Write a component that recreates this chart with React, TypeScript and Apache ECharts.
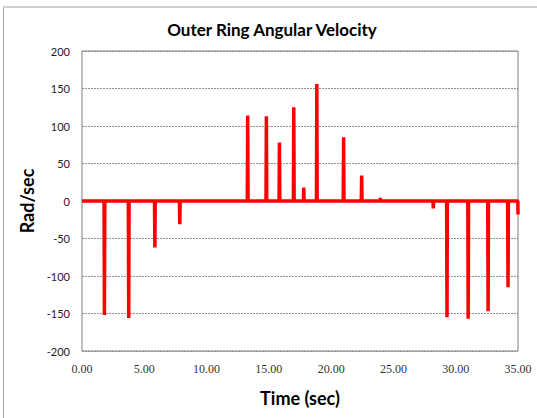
import React, { useEffect, useRef } from "react";
import * as echarts from "echarts";

const spikeTimes = [1.8, 3.75, 5.85, 7.85, 13.3, 13.85, 14.8, 15.85, 17.0, 17.8, 18.85, 21.0, 22.45, 23.95, 28.2, 29.3, 31.0, 32.6, 34.2];
const spikePeaks = [-152, -156, -62, -31, 114, 1, 113, 78, 125, 18, 156, 85, 34, 4, -10, -155, -157, -147, -115];
const endTime = 35.0;
const endValue = -18;
const xTicks = [0, 5, 10, 15, 20, 25, 30, 35];
const yTicks = [-200, -150, -100, -50, 0, 50, 100, 150, 200];

export default function App() {
  const ref = useRef<HTMLDivElement>(null);
  useEffect(() => {
    if (!ref.current) return;
    const chart = echarts.init(ref.current, null, { renderer: "svg" });
    const d = 0.03;
    const data: number[][] = [[0, 0]];
    spikeTimes.forEach((t, i) => {
      data.push([t - d, 0]);
      data.push([t, spikePeaks[i]]);
      data.push([t + d, 0]);
    });
    data.push([endTime - 0.01, 0]);
    data.push([endTime, endValue]);

    chart.setOption({
      animation: false,
      title: {
        text: "Outer Ring Angular Velocity",
        left: 267,
        top: 16,
        textAlign: "center",
        textStyle: { fontFamily: "Lato", fontWeight: "bold", fontSize: 17, color: "#000" },
      },
      graphic: [
        { type: "line", shape: { x1: 3.5, y1: 7, x2: 3.5, y2: 418 }, style: { stroke: "#a6a6a6", lineWidth: 1 } },
        { type: "line", shape: { x1: 3, y1: 7, x2: 537, y2: 7 }, style: { stroke: "#d0d0d0", lineWidth: 2 } },
      ],
      grid: {
        left: 82,
        right: 19,
        top: 51,
        bottom: 67,
        show: true,
        borderColor: "#808080",
        borderWidth: 1,
      },
      xAxis: {
        type: "value",
        min: 0,
        max: 35,
        interval: 5,
        name: "Time (sec)",
        nameLocation: "middle",
        nameGap: 38,
        nameTextStyle: { fontFamily: "Lato", fontWeight: "bold", fontSize: 18, color: "#000" },
        axisLine: { show: false },
        axisTick: { show: false },
        splitLine: { show: false },
        axisLabel: {
          fontFamily: "Liberation Serif",
          fontSize: 12,
          color: "#333",
          margin: 12,
          formatter: (v: number) => (xTicks.includes(v) ? v.toFixed(2) : ""),
        },
      },
      yAxis: {
        type: "value",
        min: -200,
        max: 200,
        interval: 50,
        name: "Rad/sec",
        nameLocation: "middle",
        nameGap: 46,
        nameTextStyle: { fontFamily: "Lato", fontWeight: "bold", fontSize: 18, color: "#000" },
        axisLine: { show: false },
        axisTick: { show: false },
        axisLabel: {
          fontFamily: "Lato",
          fontSize: 11,
          color: "#222",
          margin: 12,
          formatter: (v: number) => (yTicks.includes(v) ? String(v) : ""),
        },
        splitLine: { show: true, lineStyle: { color: "#909090", type: [2, 1], width: 1 } },
      },
      series: [
        {
          type: "line",
          data,
          showSymbol: false,
          symbol: "none",
          lineStyle: { color: "#ff0000", width: 3.5 },
        },
      ],
    });
    return () => chart.dispose();
  }, []);
  return (
    <div
      ref={ref}
      style={{ position: "fixed", left: 0, top: 0, width: 537, height: 418, background: "#fff" }}
    />
  );
}
